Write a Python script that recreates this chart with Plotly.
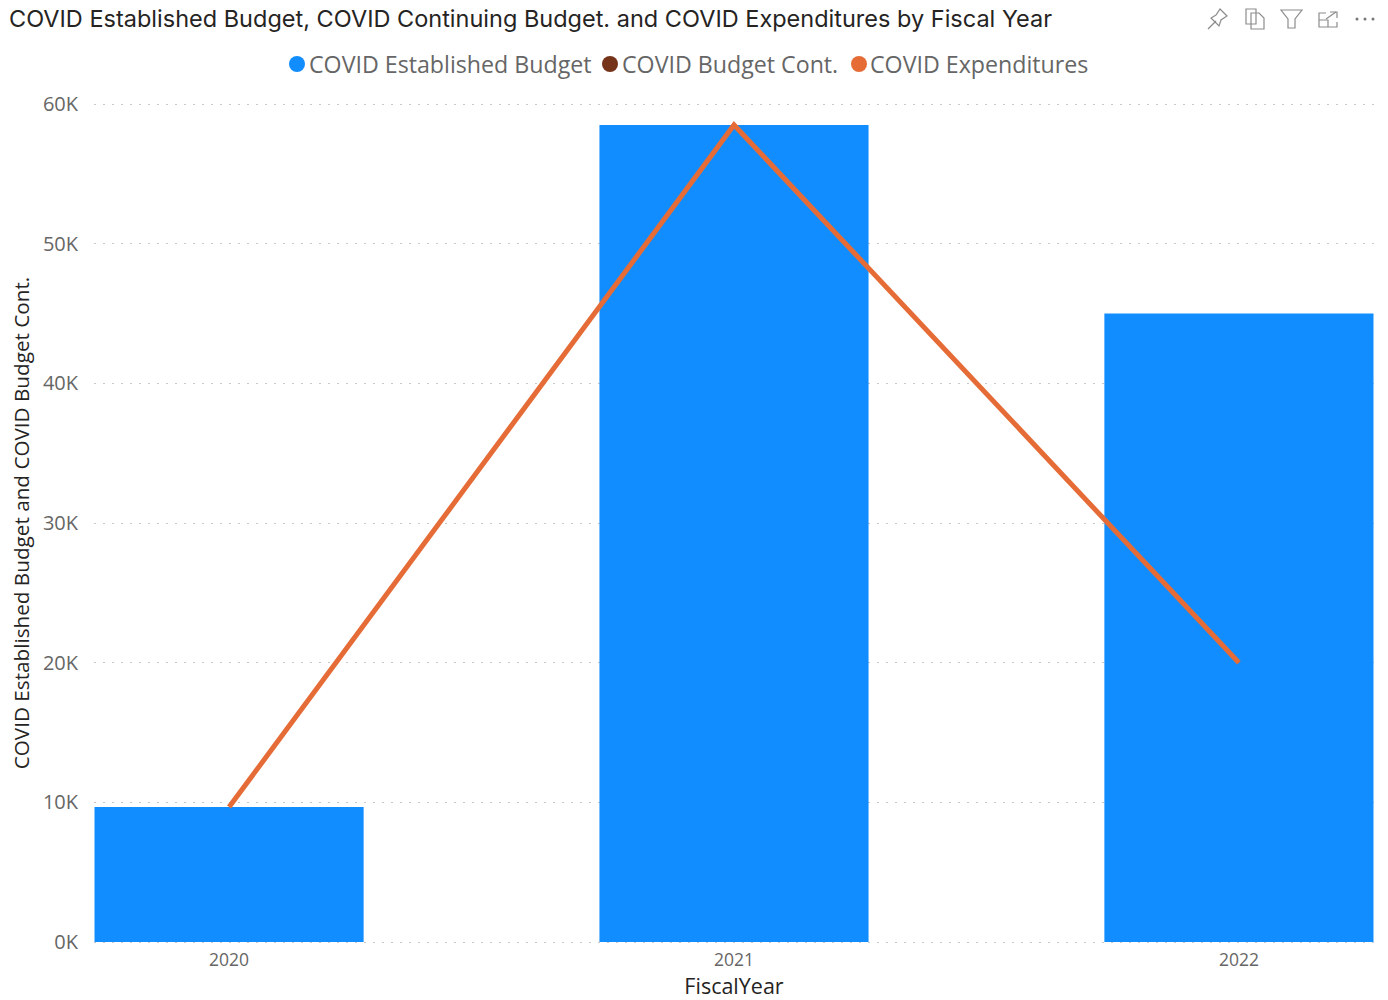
import plotly.graph_objects as go

# Fiscal-year figures, in dollars
fiscal_years = ["2020", "2021", "2022"]
established_budget = [9660, 58500, 45000]
continuing_budget = [None, None, None]
expenditures = [9660, 58500, 20000]

series_names = ["COVID Established Budget", "COVID Budget Cont.", "COVID Expenditures"]
y_ticks = [0, 10000, 20000, 30000, 40000, 50000, 60000]
y_tick_labels = ["0K", "10K", "20K", "30K", "40K", "50K", "60K"]

BLUE, BROWN, ORANGE = "#118DFF", "#75331A", "#E66C37"
GREY_TEXT, DARK_TEXT, ICON = "#666666", "#252423", "#8C8C8C"
FONT = "Open Sans"

W, H = 1388, 1000
L, R, T, B = 94, 14, 102, 56


def fx(px):
    return (px - L) / (W - L - R)


def fy(py):
    return 1 - (py - T) / (H - T - B)


def icon_path(points, closed=False):
    head = f"M{fx(points[0][0]):.5f},{fy(points[0][1]):.5f}"
    rest = "".join(f" L{fx(x):.5f},{fy(y):.5f}" for x, y in points[1:])
    return head + rest + (" Z" if closed else "")


fig = go.Figure()
fig.add_bar(x=fiscal_years, y=established_budget, name=series_names[0],
            marker=dict(color=BLUE, line=dict(width=0)), showlegend=False)
fig.add_scatter(x=fiscal_years, y=continuing_budget, name=series_names[1], mode="lines",
                line=dict(color=BROWN, width=5), showlegend=False)
fig.add_scatter(x=fiscal_years, y=expenditures, name=series_names[2], mode="lines",
                line=dict(color=ORANGE, width=5), showlegend=False)

shapes = []
annotations = [
    dict(text="COVID Established Budget, COVID Continuing Budget. and COVID Expenditures by Fiscal Year",
         x=fx(7), y=fy(18), xref="paper", yref="paper", xanchor="left", yanchor="middle",
         showarrow=False, font=dict(family="Inter", size=23.5, color=DARK_TEXT)),
]

# Legend row: a dot and a label for each series
for name, color, dot_x, text_x in zip(series_names, [BLUE, BROWN, ORANGE],
                                      [297, 610, 859], [307, 620, 868]):
    shapes.append(dict(type="circle", xref="paper", yref="paper", line=dict(width=0),
                       fillcolor=color, x0=fx(dot_x - 8), x1=fx(dot_x + 8),
                       y0=fy(72), y1=fy(56)))
    annotations.append(dict(text=name, x=fx(text_x), y=fy(64), xref="paper", yref="paper",
                            xanchor="left", yanchor="middle", showarrow=False,
                            font=dict(family=FONT, size=23.2, color=GREY_TEXT)))

# Visual header icons: pin, copy, filter, focus, more
icon_outlines = [
    ([(1208, 29), (1216, 21)], False),
    ([(1211, 18), (1219, 26), (1221, 20), (1227, 16), (1220, 9), (1216, 15)], True),
    ([(1246, 9), (1256, 9), (1256, 24), (1246, 24)], True),
    ([(1251, 13), (1259, 13), (1264, 18), (1264, 29), (1251, 29)], True),
    ([(1281, 10), (1302, 10), (1295, 19), (1295, 28), (1288, 28), (1288, 19)], True),
    ([(1326, 13), (1319, 13), (1319, 27), (1337, 27), (1337, 22)], False),
    ([(1319, 20), (1328, 20), (1328, 27)], False),
    ([(1326, 19), (1336, 12)], False),
    ([(1330, 12), (1337, 12), (1337, 18)], False),
]
for points, closed in icon_outlines:
    shapes.append(dict(type="path", xref="paper", yref="paper", path=icon_path(points, closed),
                       line=dict(color=ICON, width=1.2)))
for dot_x in (1357, 1365, 1373):
    shapes.append(dict(type="circle", xref="paper", yref="paper", line=dict(width=0),
                       fillcolor="#777777", x0=fx(dot_x - 1.5), x1=fx(dot_x + 1.5),
                       y0=fy(20.5), y1=fy(17.5)))

fig.update_layout(
    width=W, height=H, autosize=False,
    margin=dict(l=L, r=R, t=T, b=B, pad=0),
    paper_bgcolor="white", plot_bgcolor="white",
    bargap=0.467, showlegend=False,
    shapes=shapes, annotations=annotations,
    font=dict(family=FONT, color=GREY_TEXT),
)
fig.update_xaxes(
    type="category", categoryorder="array", categoryarray=fiscal_years,
    range=[-0.2675, 2.2675], showgrid=False, zeroline=False, showline=False,
    automargin=False, ticks="outside", ticklen=0, tickcolor="rgba(0,0,0,0)",
    tickfont=dict(family=FONT, size=17.5, color=GREY_TEXT),
    title=dict(text="FiscalYear", font=dict(family=FONT, size=21.5, color=DARK_TEXT), standoff=14),
)
# The range runs just past 0 and 60K so both end gridlines are kept
fig.update_yaxes(
    range=[-143, 60143], tickvals=y_ticks, ticktext=y_tick_labels,
    showgrid=True, gridcolor="#C8C8C8", griddash="2px,7px", gridwidth=1,
    zeroline=False, showline=False, automargin=False,
    ticks="outside", ticklen=11, tickcolor="rgba(0,0,0,0)",
    tickfont=dict(family=FONT, size=20, color=GREY_TEXT),
    title=dict(text="COVID Established Budget and COVID Budget Cont.",
               font=dict(family=FONT, size=20.7, color=DARK_TEXT), standoff=7),
)

fig.write_html("out.html")
